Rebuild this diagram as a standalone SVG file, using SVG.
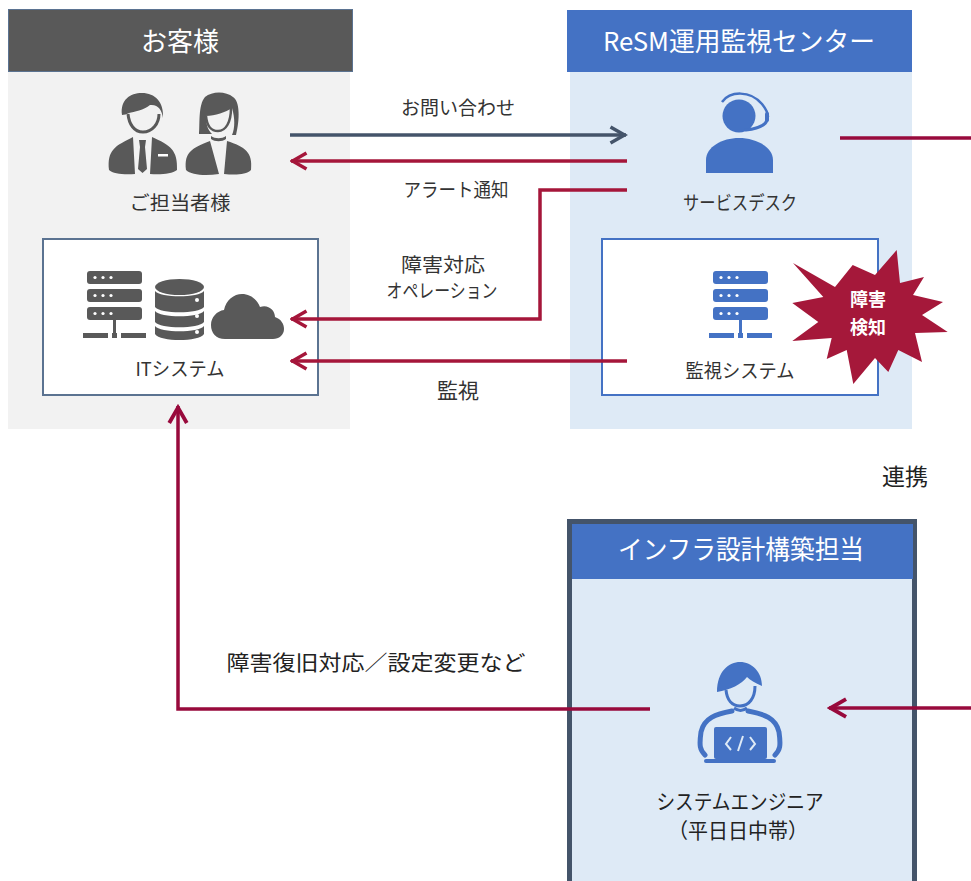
<svg xmlns="http://www.w3.org/2000/svg" width="971" height="881" viewBox="0 0 971 881">
<style>
text{font-family:"Noto Sans CJK JP","Noto Sans",sans-serif;text-anchor:middle;fill:#333}
.h{fill:#fff;font-size:26px}
.l{font-size:19px}
.l2{font-size:21px}
.g{fill:#595959}.b{fill:#4472c4}
.c{fill:none;stroke-width:3.5}
.r{stroke:#a5163a}.m{stroke:#980a3c}.d{stroke:#44546a}
.w{fill:#fff}
</style>
<defs>
<marker id="ar" viewBox="0 0 20 20" refX="18.500" refY="10" markerWidth="20" markerHeight="20" markerUnits="userSpaceOnUse" orient="auto"><path d="M3 2 17 10 3 18" fill="none" stroke="#a5163a" stroke-width="3.500"/></marker>
<marker id="am" viewBox="0 0 20 20" refX="18.500" refY="10" markerWidth="22" markerHeight="22" markerUnits="userSpaceOnUse" orient="auto"><path d="M3 2 17 10 3 18" fill="none" stroke="#980a3c" stroke-width="3.500"/></marker>
<marker id="ad" viewBox="0 0 20 20" refX="18.500" refY="10" markerWidth="20" markerHeight="20" markerUnits="userSpaceOnUse" orient="auto"><path d="M3 2 17 10 3 18" fill="none" stroke="#44546a" stroke-width="3.500"/></marker>
<g id="srv">
<rect x="4" y="0" width="55" height="13" rx="3"/><rect x="4" y="18" width="55" height="13" rx="3"/><rect x="4" y="36" width="55" height="13" rx="3"/>
<rect x="30" y="49" width="3" height="13"/><rect x="0" y="62" width="25" height="5"/><rect x="29" y="62" width="5" height="5"/><rect x="38" y="62" width="25" height="5"/>
<g class="w"><circle cx="12" cy="6.500" r="1.600"/><circle cx="20" cy="6.500" r="1.600"/><circle cx="28" cy="6.500" r="1.600"/><circle cx="12" cy="24.500" r="1.600"/><circle cx="20" cy="24.500" r="1.600"/><circle cx="28" cy="24.500" r="1.600"/><circle cx="12" cy="42.500" r="1.600"/><circle cx="20" cy="42.500" r="1.600"/><circle cx="28" cy="42.500" r="1.600"/></g>
</g>
</defs>

<g id="customer">
<rect x="8" y="72" width="342" height="357" fill="#f2f2f2"/>
<rect x="8.500" y="9.500" width="344" height="62" fill="#595959" stroke="#5b7391" stroke-width="1"/>
<text class="h" x="180" y="51">お客様</text>
<g id="people" class="g">
<path d="M122 115C120 100 130 93 142 93C155 93 164 102 163 118C162 110 158 104 150 105C144 110 134 112 129 113C127 114 124 115 122 115Z"/>
<path d="M128 114C129 124 134 132 143 132C152 132 159 124 159 114" fill="none" stroke="#595959" stroke-width="3"/>
<path d="M109 170C107 150 115 146 133 137L135 174C125 175 113 174 109 170ZM152 137C170 145 178 150 177 170C172 174 160 175 150 174Z"/>
<path d="M139 140H146L145 147 147 169 142.500 173 138 169 140 147Z"/>
<rect x="158" y="154" width="10" height="2.500" fill="#fff"/>
<path d="M199 134C200 125 198 105 205 97C212 91 226 91 233 97C240 101 240 120 236 135H232C235 128 235 118 232 108C226 112 215 116 206 116C206 125 208 130 212 134Z"/>
<path d="M206 116C207 127 212 131 218 131C226 131 231 122 231 108" fill="none" stroke="#595959" stroke-width="2.500"/>
<path d="M186 170C184 152 192 148 210 141L219 174C205 176 191 175 186 170ZM227 141C245 147 253 152 251 170C246 175 235 175 224 174Z"/>
<path d="M211 136C215 139 222 139 226 136V139C222 142 215 142 211 139Z"/>
</g>
<text class="l" x="180" y="210" textLength="101" lengthAdjust="spacingAndGlyphs">ご担当者様</text>
</g>

<g id="it-system">
<rect x="43" y="239" width="275" height="156" fill="#fff" stroke="#5b7391" stroke-width="2"/>
<use href="#srv" x="83" y="271" class="g"/>
<g id="db" class="g">
<ellipse cx="179.500" cy="287" rx="24.500" ry="8"/>
<path d="M155 291C160 298 199 298 204 291V307C199 314 160 314 155 307Z"/>
<path d="M155 311C160 318 199 318 204 311V322C199 329 160 329 155 322Z"/>
<path d="M155 326C160 333 199 333 204 326V334C199 342 160 342 155 334Z"/>
<circle cx="197" cy="300" r="2" fill="#fff"/><circle cx="197" cy="316" r="2" fill="#fff"/><circle cx="197" cy="332" r="2" fill="#fff"/>
</g>
<path id="cloud" class="g" d="M225 339C216 339 211 333 211 325C211 317 217 311 224 310C226 300 234 294 242 294C250 294 257 299 260 307C268 304 275 310 275 317C281 319 284 324 284 329C284 335 279 339 273 339Z"/>
<text class="l" x="180" y="376" textLength="89" lengthAdjust="spacingAndGlyphs">ITシステム</text>
</g>

<g id="resm-center">
<rect x="570" y="72" width="342" height="357" fill="#deeaf6"/>
<rect x="567" y="10" width="345" height="62" fill="#4472c4"/>
<text class="h" x="739" y="51" textLength="272" lengthAdjust="spacingAndGlyphs">ReSM運用監視センター</text>
<g id="service-desk" class="b">
<circle cx="739" cy="116" r="16.500"/>
<path d="M722 102C730 91 750 90 762 104C766 109 768 113 768 117" fill="none" stroke="#4472c4" stroke-width="2.500"/>
<path d="M746 130C755 129 765 127 767 120" fill="none" stroke="#4472c4" stroke-width="3" stroke-linecap="round"/>
<rect x="765" y="112" width="4" height="10" rx="2"/>
<path d="M706 173V160C706 147 722 138 739 138C756 138 773 147 773 160V173Z"/>
</g>
<text class="l" x="740" y="210" textLength="114" lengthAdjust="spacingAndGlyphs">サービスデスク</text>
</g>

<g id="monitoring">
<rect x="602" y="239" width="276" height="156" fill="#fff" stroke="#4472c4" stroke-width="2"/>
<use href="#srv" x="709" y="271" class="b"/>
<text class="l" x="740" y="378" textLength="109" lengthAdjust="spacingAndGlyphs">監視システム</text>
</g>

<g id="detect">
<polygon fill="#a5183a" points="793,263 835,287 852.700,265 875,275 896.700,250 900,283 924,277 913,295 943,302 922,315 947.700,332 915,333 922,362 898.300,350 888.300,372 875,358 853.300,384 846.700,350 826.700,359 831.700,338 792.300,341 818.300,322 792.300,303 823.300,297"/>
<text x="868" y="306" font-size="18" font-weight="700" style="fill:#fff">障害</text>
<text x="868" y="334" font-size="18" font-weight="700" style="fill:#fff">検知</text>
</g>

<g id="infra">
<rect x="569.500" y="521.500" width="345" height="362" fill="#deeaf6" stroke="#44546a" stroke-width="5"/>
<rect x="572" y="524" width="341" height="55" fill="#4472c4"/>
<text class="h" x="741" y="559" textLength="246" lengthAdjust="spacingAndGlyphs">インフラ設計構築担当</text>
<g id="engineer">
<path class="b" d="M717 692C717 671 729 662 740 662C752 662 762 672 762 686C755 683 750 680 747 677C742 684 730 690 717 692Z"/>
<path d="M726 690C727 700 732 706 740 706C749 706 755 698 755 686" fill="none" stroke="#4472c4" stroke-width="3"/>
<path d="M734 708C738 711 743 711 747 708" fill="none" stroke="#4472c4" stroke-width="3"/>
<path d="M705 755C700 750 699 746 701 732C704 718 716 714 732 711M775 755C780 750 781 746 779 732C776 718 764 714 748 711" fill="none" stroke="#4472c4" stroke-width="5" stroke-linecap="round"/>
<rect class="b" x="714" y="727" width="53" height="32" rx="2"/>
<rect class="b" x="704" y="759" width="72" height="4" rx="2"/>
<path d="M731 737 726 744 731 750M750 737 755 744 750 750M743 736 738 751" fill="none" stroke="#deeaf6" stroke-width="2"/>
</g>
<text x="740" y="809" font-size="21" textLength="167" lengthAdjust="spacingAndGlyphs" style="fill:#222">システムエンジニア</text>
<text x="738" y="838" font-size="21" textLength="140" lengthAdjust="spacingAndGlyphs" style="fill:#222">（平日日中帯）</text>
</g>

<g id="connectors">
<path class="c d" d="M290 135H626" marker-end="url(#ad)"/>
<path class="c r" d="M627 161H291" marker-end="url(#ar)"/>
<path class="c r" d="M627 190H540V319H291" marker-end="url(#ar)"/>
<path class="c r" d="M627 361H291" marker-end="url(#ar)"/>
<path class="c m" d="M840 138H971"/>
<path class="c m" d="M650 709H178V406" marker-end="url(#am)"/>
<path class="c m" d="M971 708H829" marker-end="url(#am)"/>
</g>

<g id="labels">
<text class="l" x="458" y="115" textLength="114" lengthAdjust="spacingAndGlyphs">お問い合わせ</text>
<text class="l" x="456" y="197" textLength="105" lengthAdjust="spacingAndGlyphs">アラート通知</text>
<text class="l" x="443" y="272" textLength="84" lengthAdjust="spacingAndGlyphs">障害対応</text>
<text class="l" x="442" y="298" textLength="111" lengthAdjust="spacingAndGlyphs">オペレーション</text>
<text class="l2" x="458" y="398">監視</text>
<text x="905" y="485" font-size="23" style="fill:#222">連携</text>
<text x="376" y="670" font-size="21" textLength="299" lengthAdjust="spacingAndGlyphs" style="fill:#222">障害復旧対応／設定変更など</text>
</g>
</svg>
